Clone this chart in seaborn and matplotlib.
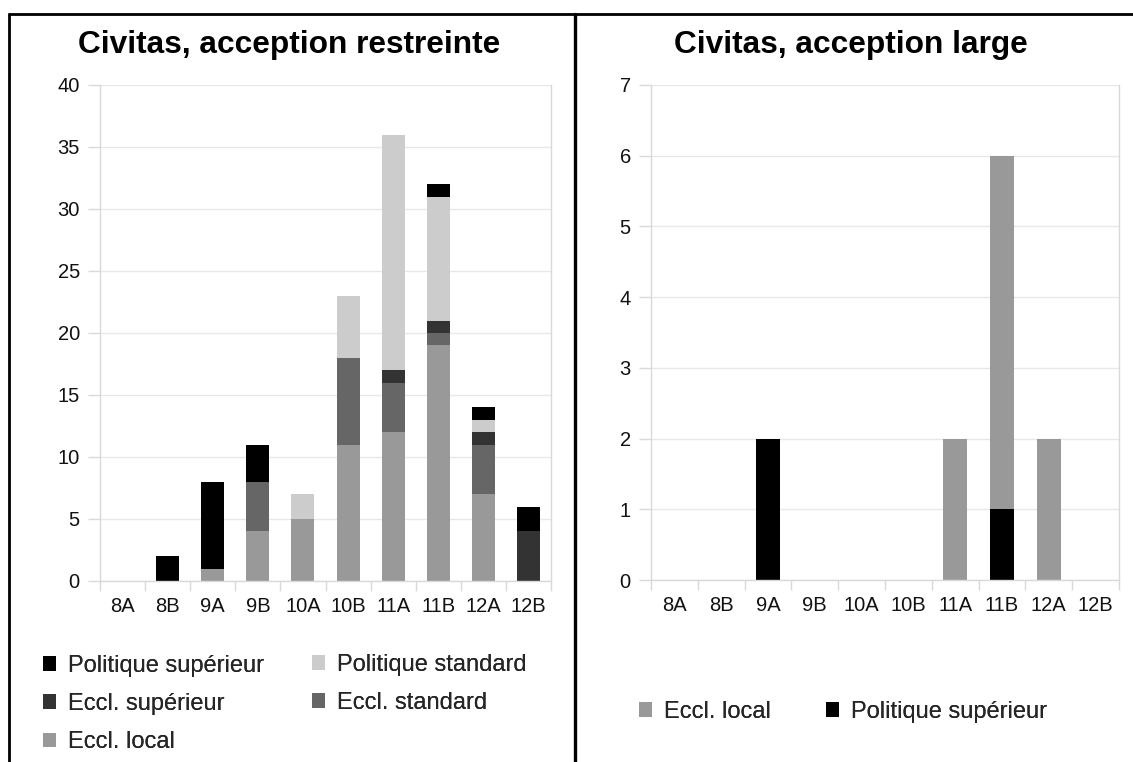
import matplotlib
matplotlib.use("Agg")
import matplotlib.pyplot as plt
from matplotlib.patches import Patch
from matplotlib.lines import Line2D
import numpy as np
import pandas as pd
import seaborn as sns

# Periods (half-centuries)
periods = ["8A", "8B", "9A", "9B", "10A", "10B", "11A", "11B", "12A", "12B"]

# Civitas, restricted sense: counts per category, stacked bottom to top
eccl_local = [0, 0, 1, 4, 5, 11, 12, 19, 7, 0]
eccl_standard = [0, 0, 0, 4, 0, 7, 4, 1, 4, 0]
eccl_superieur = [0, 0, 0, 0, 0, 0, 1, 1, 1, 4]
pol_standard = [0, 0, 0, 0, 2, 5, 19, 10, 1, 0]
pol_superieur = [0, 2, 7, 3, 0, 0, 0, 1, 1, 2]

# Civitas, broad sense
large_pol_superieur = [0, 0, 2, 0, 0, 0, 0, 1, 0, 0]
large_eccl_local = [0, 0, 0, 0, 0, 0, 2, 5, 2, 0]

colors = {
    "Politique supérieur": "#000000",
    "Politique standard": "#cccccc",
    "Eccl. supérieur": "#333333",
    "Eccl. standard": "#666666",
    "Eccl. local": "#999999",
}

sns.set_theme(style="white")
plt.rcParams["font.family"] = ["Liberation Sans", "DejaVu Sans"]

W, H = 1133, 762
fig = plt.figure(figsize=(W / 100, H / 100), dpi=100)

grid_c = "#e8e8e8"
axis_c = "#d9d9d9"
TICK_FS = 14.5
LEG_FS = 17
TITLE_FS = 22.8


def fx(px):
    return px / W


def fy(py):
    return 1 - py / H


def stacked(ax, series):
    bottom = np.zeros(len(periods))
    for name, vals in series:
        df = pd.DataFrame({"period": periods, "n": vals})
        sns.barplot(data=df, x="period", y="n", order=periods, ax=ax,
                    color=colors[name], bottom=bottom, width=0.51,
                    edgecolor="none", linewidth=0, saturation=1, errorbar=None)
        bottom = bottom + np.array(vals)


def style_axes(ax, ymax, step):
    ax.set_xlim(-0.5, len(periods) - 0.5)
    ax.set_ylim(0, ymax)
    ax.set_yticks(np.arange(0, ymax + step / 2, step))
    ax.set_xticks(range(len(periods)))
    ax.set_xticklabels(periods)
    ax.set_xticks(np.arange(-0.5, len(periods)), minor=True)
    ax.set_xlabel("")
    ax.set_ylabel("")
    ax.set_axisbelow(True)
    ax.yaxis.grid(True, color=grid_c, linewidth=1)
    ax.xaxis.grid(False)
    for s in ["left", "bottom", "right"]:
        ax.spines[s].set_visible(True)
        ax.spines[s].set_color(axis_c)
        ax.spines[s].set_linewidth(1)
    ax.spines["top"].set_visible(False)
    ax.tick_params(axis="y", which="major", left=True, length=8.5, width=1,
                   color=axis_c, pad=6, labelsize=TICK_FS, labelcolor="#111111")
    ax.tick_params(axis="x", which="major", bottom=False, length=0, pad=11.5,
                   labelsize=TICK_FS, labelcolor="#111111")
    ax.tick_params(axis="x", which="minor", bottom=True, length=7.5, width=1,
                   color=axis_c)


# Left panel
ax1 = fig.add_axes([fx(100), fy(581), fx(551 - 100), (581 - 85) / H])
stacked(ax1, [("Eccl. local", eccl_local), ("Eccl. standard", eccl_standard),
              ("Eccl. supérieur", eccl_superieur),
              ("Politique standard", pol_standard),
              ("Politique supérieur", pol_superieur)])
style_axes(ax1, 40, 5)

# Right panel
ax2 = fig.add_axes([fx(651), fy(580), fx(1119 - 651), (580 - 85) / H])
stacked(ax2, [("Politique supérieur", large_pol_superieur),
              ("Eccl. local", large_eccl_local)])
style_axes(ax2, 7, 1)

# Titles
fig.text(fx(289), fy(45), "Civitas, acception restreinte", ha="center",
         va="center", fontsize=TITLE_FS, fontweight="bold", color="#000000")
fig.text(fx(851), fy(45), "Civitas, acception large", ha="center",
         va="center", fontsize=TITLE_FS, fontweight="bold", color="#000000")


# Legends: one legend per column so each column sits where it belongs
def legend_column(names, x_px, y_px):
    hs = [Patch(facecolor=colors[n], edgecolor="none", label=n) for n in names]
    leg = fig.legend(handles=hs, loc="center left",
                     bbox_to_anchor=(fx(x_px), fy(y_px)), frameon=False,
                     fontsize=LEG_FS, handlelength=0.56, handleheight=0.56,
                     handletextpad=0.5, labelspacing=0.68,
                     borderaxespad=0, borderpad=0)
    fig.add_artist(leg)
    return leg


legend_column(["Politique supérieur", "Eccl. supérieur", "Eccl. local"], 43, 704)
legend_column(["Politique standard", "Eccl. standard"], 312, 684)
legend_column(["Eccl. local"], 639, 712)
legend_column(["Politique supérieur"], 826, 712)

# Panel frame lines
frame = dict(color="#000000", linewidth=2, transform=fig.transFigure)
fig.add_artist(Line2D([fx(9), 1], [fy(14), fy(14)], **frame))
fig.add_artist(Line2D([fx(9), fx(9)], [fy(14), 0], **frame))
fig.add_artist(Line2D([fx(575), fx(575)], [fy(14), 0], color="#000000",
                      linewidth=2.4, transform=fig.transFigure))

fig.savefig("out.png", dpi=100)
